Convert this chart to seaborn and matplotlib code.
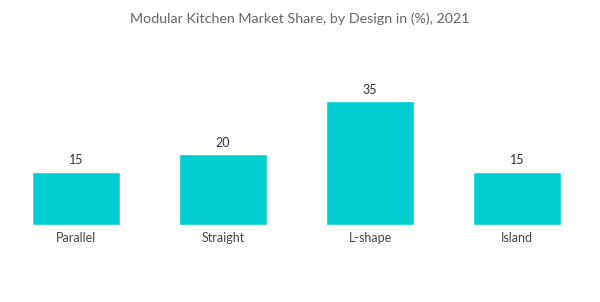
import matplotlib
matplotlib.use("Agg")
import matplotlib.pyplot as plt
import seaborn as sns
import pandas as pd

categories = ["Parallel", "Straight", "L-shape", "Island"]
values = [15, 20, 35, 15]
title = "Modular Kitchen Market Share, by Design in (%), 2021"

sns.set_style("white")
plt.rcParams['font.family'] = ['Lato', 'DejaVu Sans']

df = pd.DataFrame({"Design": categories, "Share": values})

fig = plt.figure(figsize=(6.0, 3.02), dpi=100)
ax = fig.add_axes([0.0042, 0.255, 0.98, 0.469])
sns.barplot(data=df, x="Design", y="Share", color="#00CED1", saturation=1,
            width=0.6, ax=ax)
ax.set_xlim(-0.5, 3.5)
ax.set_ylim(0, 40)
for c in ax.containers:
    ax.bar_label(c, labels=[f"{v:g}" for v in values], padding=4,
                 fontsize=9, color="#333333")
ax.set_xlabel("")
ax.set_ylabel("")
ax.set_yticks([])
ax.tick_params(axis="x", length=0, pad=5, labelsize=9, labelcolor="#444444")
for s in ax.spines.values():
    s.set_visible(False)
fig.text(0.5, 0.937, title, ha="center", va="center", fontsize=10.3, color="#666666")
fig.savefig("out.png", dpi=100)
